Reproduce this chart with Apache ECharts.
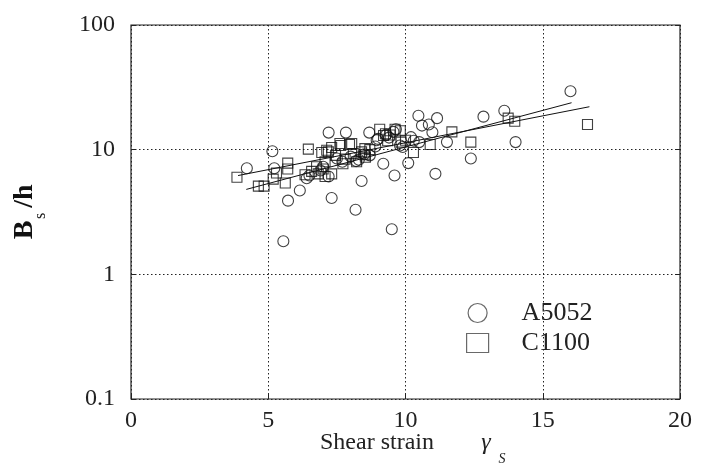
<!DOCTYPE html>
<html>
<head>
<meta charset="utf-8">
<script src="https://cdn.jsdelivr.net/npm/echarts@6/dist/echarts.min.js"></script>
<style>
html,body{margin:0;padding:0;background:#fff;}
#chart{width:704px;height:470px;}
</style>
</head>
<body>
<div id="chart"></div>
<script>
// A5052 (circles): [shear strain, Bs/h]
const a5052 = [
  [4.22,7.1],[5.15,9.7],[5.22,7.1],[5.55,1.84],[5.72,3.9],[6.15,4.7],[6.4,5.9],[6.5,6.2],
  [6.9,6.8],[7.2,6.1],[7.2,13.7],[7.31,4.1],[7.5,8.5],[7.83,13.7],[8.0,8.8],[8.18,3.3],
  [8.2,8.1],[8.4,5.6],[8.5,9.2],[8.68,13.7],[8.7,9.0],[8.95,11.9],[9.0,12.2],[9.19,7.7],
  [9.3,13.2],[9.5,2.3],[9.56,13.9],[9.6,6.2],[9.65,14.6],[9.8,10.8],[10.1,7.8],[10.2,12.6],
  [10.3,11.8],[10.47,18.7],[10.6,15.6],[10.85,15.9],[10.98,13.8],[11.09,6.4],[11.15,17.9],
  [11.51,11.5],[12.38,8.5],[12.84,18.4],[13.6,20.5],[14.01,11.5],[16.01,29.4],
  [7.0,7.3],[7.7,8.0],[8.3,8.3],[9.9,10.5],[10.5,11.5],[8.9,10.6],[9.4,12.5]
];
// C1100 (squares)
const c1100 = [
  [3.86,6.0],[4.64,5.1],[4.85,5.1],[5.18,5.8],[5.3,6.5],[5.62,5.4],[5.71,7.8],[5.71,7.0],
  [6.34,6.3],[6.46,10.1],[6.58,6.7],[6.76,7.3],[6.82,6.4],[6.95,9.5],[7.0,7.0],[7.07,8.0],
  [7.07,6.1],[7.13,9.9],[7.19,9.6],[7.31,10.4],[7.31,6.4],[7.45,9.0],[7.61,11.2],[7.64,10.8],
  [7.72,7.7],[7.8,8.4],[7.96,11.0],[8.04,11.2],[8.1,9.3],[8.22,8.0],[8.4,9.6],[8.52,10.2],
  [8.54,8.7],[8.52,9.1],[8.7,10.0],[9.06,14.6],[9.2,13.0],[9.27,13.4],[9.35,11.8],[9.44,13.1],
  [9.62,14.6],[9.81,14.2],[9.84,11.5],[10.0,11.9],[10.29,9.5],[10.9,11.0],[11.69,13.9],
  [12.38,11.5],[13.74,17.9],[13.98,16.9],[16.63,15.9]
];
// Fitted trend lines (end points)
const fitA = [[4.2,4.8],[16.05,23.8]];
const fitC = [[3.9,6.2],[16.7,22.1]];
const xTicks = [0,5,10,15,20];
const yTicks = [0.1,1,10,100];
const legendNames = ['A5052','C1100'];

const chart = echarts.init(document.getElementById('chart'), null, {renderer:'canvas'});
const serif = '"Liberation Serif","DejaVu Serif",serif';
const markStyle = {color:'rgba(255,255,255,0)', borderColor:'#111', borderWidth:1.1};
const split = {show:true, lineStyle:{color:'#222', type:[1.5,2.5], width:1}};

chart.setOption({
  animation:false,
  backgroundColor:'#fff',
  grid:{left:131, top:25, width:549, height:374, show:true, borderColor:'#222', borderWidth:1.2, backgroundColor:'transparent'},
  xAxis:{
    type:'value', min:xTicks[0], max:xTicks[xTicks.length-1], interval:5,
    axisLine:{show:false}, axisTick:{show:true, inside:true, length:5, lineStyle:{color:'#222'}},
    axisLabel:{fontFamily:serif, fontSize:24, color:'#222', margin:10},
    splitLine:split
  },
  yAxis:[{
    type:'log', logBase:10, min:yTicks[0], max:yTicks[yTicks.length-1],
    axisLine:{show:false}, axisTick:{show:true, inside:true, length:5, lineStyle:{color:'#222'}},
    minorTick:{show:false},
    axisLabel:{fontFamily:serif, fontSize:24, color:'#222', margin:16,
      formatter:function(v){return String(+v.toPrecision(3));}},
    splitLine:split
  },{
    type:'log', logBase:10, min:yTicks[0], max:yTicks[yTicks.length-1], position:'right',
    axisLine:{show:false}, axisTick:{show:true, inside:true, length:5, lineStyle:{color:'#222'}},
    axisLabel:{show:false}, splitLine:{show:false}
  }],
  legend:{
    orient:'vertical', left:466, top:299, padding:0, itemGap:2,
    itemWidth:22, itemHeight:19,
    textStyle:{fontFamily:serif, fontSize:26, color:'#222', lineHeight:28, padding:[0,0,0,28]},
    data:[
      {name:legendNames[0], icon:'circle', itemStyle:{color:'rgba(255,255,255,0)', borderColor:'#444', borderWidth:1.2}},
      {name:legendNames[1], icon:'rect', itemStyle:{color:'rgba(255,255,255,0)', borderColor:'#444', borderWidth:1.2}}
    ]
  },
  series:[
    {name:legendNames[0], type:'scatter', symbol:'circle', symbolSize:11, data:a5052, itemStyle:markStyle, z:3},
    {name:legendNames[1], type:'scatter', symbol:'rect', symbolSize:10, data:c1100, itemStyle:markStyle, z:3},
    {name:'fitA', type:'line', data:fitA, showSymbol:false, symbol:'none', lineStyle:{color:'#111', width:1}, z:2},
    {name:'fitC', type:'line', data:fitC, showSymbol:false, symbol:'none', lineStyle:{color:'#111', width:1}, z:2}
  ],
  graphic:[
    {type:'text', left:null, x:377, y:443, style:{text:'Shear strain', font:'24px '+serif, fill:'#222', align:'center', verticalAlign:'middle'}},
    {type:'text', x:486, y:443, style:{text:'γ', font:'italic 24px '+serif, fill:'#222', align:'center', verticalAlign:'middle'}},
    {type:'text', x:502, y:459, style:{text:'S', font:'italic 14px '+serif, fill:'#222', align:'center', verticalAlign:'middle'}},
    {type:'text', x:25, y:230, rotation:Math.PI/2, style:{text:'B', font:'bold 28px '+serif, fill:'#111', align:'center', verticalAlign:'middle'}},
    {type:'text', x:41, y:216, rotation:Math.PI/2, style:{text:'s', font:'16px '+serif, fill:'#111', align:'center', verticalAlign:'middle'}},
    {type:'text', x:25, y:196, rotation:Math.PI/2, style:{text:'/h', font:'bold 28px '+serif, fill:'#111', align:'center', verticalAlign:'middle'}}
  ]
});
</script>
</body>
</html>
